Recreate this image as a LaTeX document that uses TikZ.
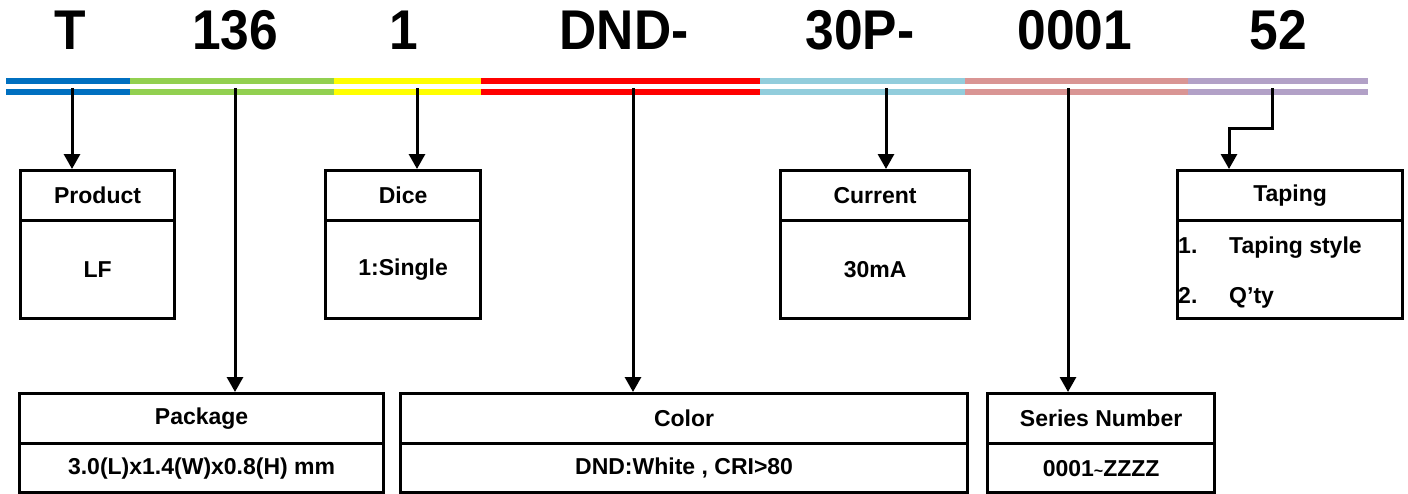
\documentclass[tikz,border=0pt]{standalone}
\usepackage{fontspec}
\setmainfont{Liberation Sans}
\newfontfamily\hdrfont[FakeStretch=0.92]{Liberation Sans}
\usetikzlibrary{arrows.meta}
\definecolor{cblue}{HTML}{0070C0}
\definecolor{cgreen}{HTML}{92D050}
\definecolor{cyellow}{HTML}{FFFF00}
\definecolor{cred}{HTML}{FF0000}
\definecolor{ccyan}{HTML}{92CDDC}
\definecolor{cpink}{HTML}{D99594}
\definecolor{cpurple}{HTML}{B2A1C7}
\begin{document}
\begin{tikzpicture}[x=1pt,y=-1pt,
  big/.style={font=\hdrfont\fontsize{56}{56}\selectfont\bfseries, inner sep=0pt, anchor=base},
  cell/.style={draw, line width=3.2pt, rectangle, inner sep=0pt, anchor=north west,
    font=\fontsize{23}{27}\selectfont\bfseries},
  txt/.style={font=\fontsize{23}{27}\selectfont\bfseries, inner sep=0pt},
  bar/.style={line width=6pt},
  arr/.style={line width=3pt, -{Triangle[width=16pt,length=15pt]}}
]
\useasboundingbox (0,0) rectangle (1408,493);

% header code
\node[big] (hT) at (70,49) {T};
\node[big] (h136) at (235,49) {136};
\node[big] (h1) at (404,49) {1};
\node[big] (hDND) at (624,49) {DND-};
\node[big] (h30P) at (860,49) {30P-};
\node[big] (h0001) at (1075,49) {0001};
\node[big] (h52) at (1278,49) {52};

% colour bars
\foreach \ya in {81,92}{
  \draw[bar,cblue]   (6,\ya) -- (130,\ya);
  \draw[bar,cgreen]  (130,\ya) -- (334,\ya);
  \draw[bar,cyellow] (334,\ya) -- (481,\ya);
  \draw[bar,cred]    (481,\ya) -- (760,\ya);
  \draw[bar,ccyan]   (760,\ya) -- (965,\ya);
  \draw[bar,cpink]   (965,\ya) -- (1188,\ya);
  \draw[bar,cpurple] (1188,\ya) -- (1368,\ya);
}

% upper boxes
\node[cell, minimum width=154, minimum height=50] (prodH) at (19,169) {Product};
\node[cell, minimum width=154, minimum height=98] (prodB) at (19,219) {LF};
\node[cell, minimum width=155, minimum height=50] (diceH) at (324,169) {Dice};
\node[cell, minimum width=155, minimum height=98] (diceB) at (324,219) {1:Single};
\node[cell, minimum width=189, minimum height=50] (curH) at (779,169) {Current};
\node[cell, minimum width=189, minimum height=98] (curB) at (779,219) {30mA};
\node[cell, minimum width=225, minimum height=50] (tapH) at (1176,169) {Taping};
\node[cell, minimum width=225, minimum height=98] (tapB) at (1176,219) {};
\node[txt, anchor=base west] (t1n) at (1178,253) {1.};
\node[txt, anchor=base west] (t1t) at (1229,253) {Taping style};
\node[txt, anchor=base west] (t2n) at (1178,303) {2.};
\node[txt, anchor=base west] (t2t) at (1229,303) {Q’ty};

% lower boxes
\node[cell, minimum width=364, minimum height=50] (pkgH) at (18,392) {Package};
\node[cell, minimum width=364, minimum height=49] (pkgB) at (18,442) {3.0(L)x1.4(W)x0.8(H) mm};
\node[cell, minimum width=567, minimum height=50] (colH) at (399,392) {Color};
\node[cell, minimum width=567, minimum height=49] (colB) at (399,442) {DND:White , CRI>80};
\node[cell, minimum width=227, minimum height=50] (serH) at (986,392) {Series Number};
\node[cell, minimum width=227, minimum height=49] (serB) at (986,442) {0001{\fontsize{16}{16}\selectfont\symbol{126}}ZZZZ};

% connectors
\coordinate (pT) at (72,88);
\coordinate (p136) at (235,88);
\coordinate (p1) at (417,88);
\coordinate (pDND) at (633,88);
\coordinate (p30P) at (886,88);
\coordinate (p0001) at (1068,88);
\coordinate (p52) at (1272,88);
\coordinate (bend) at (1229,128);
\draw[arr] (pT) -- (pT |- prodH.north);
\draw[arr] (p136) -- (p136 |- pkgH.north);
\draw[arr] (p1) -- (p1 |- diceH.north);
\draw[arr] (pDND) -- (pDND |- colH.north);
\draw[arr] (p30P) -- (p30P |- curH.north);
\draw[arr] (p0001) -- (p0001 |- serH.north);
\draw[arr] (p52) |- (bend) -- (bend |- tapH.north);
\end{tikzpicture}
\end{document}
